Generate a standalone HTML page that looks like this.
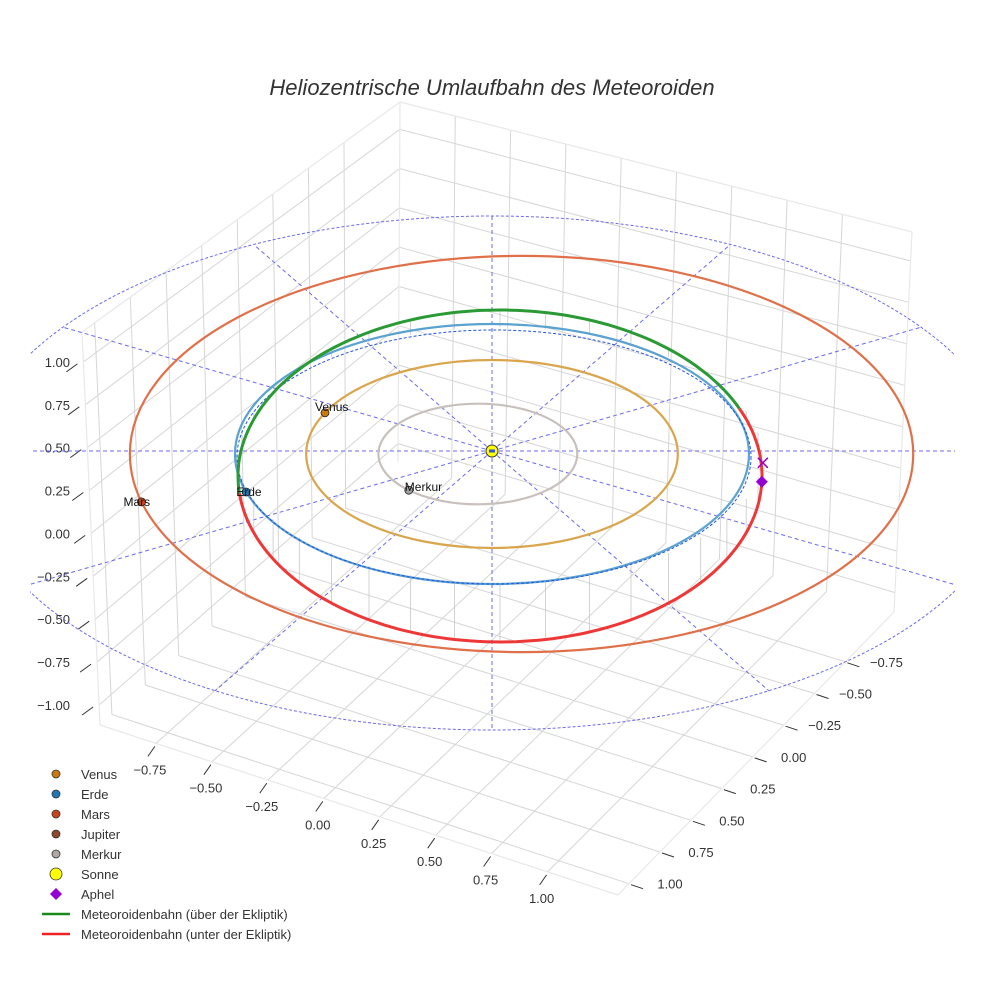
<!DOCTYPE html>
<html><head><meta charset="utf-8"><style>
html,body{margin:0;padding:0;background:#fff}
svg{display:block;font-family:"Liberation Sans",sans-serif}
</style></head><body>
<svg id="c" width="984" height="984" viewBox="0 0 984 984" xmlns="http://www.w3.org/2000/svg">
<defs><clipPath id="clipScene"><rect x="30" y="0" width="925" height="984"/></clipPath></defs>
<rect width="984" height="984" fill="#fff"/>
<text x="492" y="95" text-anchor="middle" font-size="22" font-style="italic" fill="#333">Heliozentrische Umlaufbahn des Meteoroiden</text>
<g id="grid"></g>
<g id="ticks"></g>
<g id="ref" clip-path="url(#clipScene)"></g>
<g id="orbits"></g>
<g id="legend"></g>
</svg>
<script>
// ---- data ----
const xTicks = [-0.75,-0.5,-0.25,0,0.25,0.5,0.75,1.0];
const yTicks = [-0.75,-0.5,-0.25,0,0.25,0.5,0.75,1.0];
const zTicks = [-1.0,-0.75,-0.5,-0.25,0,0.25,0.5,0.75,1.0];
const tickLabels = ["\u22121.00","\u22120.75","\u22120.50","\u22120.25","0.00","0.25","0.50","0.75","1.00"];
const planetNames = ["Merkur","Venus","Erde","Mars"];
const orbitRadii = [0.387,0.723,1.0,1.524];
const orbitCenterOffset = [-0.055,0,0,0.115];
const planetAngles = [134,-154,163,166];
const planetColors = ["#a0a0a0","#c87a10","#1f77b4","#c8461b"];
const orbitColors = ["#c8c0bd","#d9a64e","#5aa2d0","#e0704a"];
const legendNames = ["Venus","Erde","Mars","Jupiter","Merkur","Sonne","Aphel","Meteoroidenbahn (über der Ekliptik)","Meteoroidenbahn (unter der Ekliptik)"];
const legendColors = ["#c87a10","#1f77b4","#c8461b","#8c4a2a","#b0a8a4","#ffff00","#9400d3","#1a8a1a","#ee2222"];
const spokeAngles = [0,30,60,90,120,150,180,210,240,270,300,330];
const meteorNodeAngles = [174,-24];
const aphelAngle = 2;

const NS="http://www.w3.org/2000/svg";
function mk(tag,attrs,parent){const e=document.createElementNS(NS,tag);for(const k in attrs)e.setAttribute(k,attrs[k]);parent.appendChild(e);return e;}
const G=document.getElementById('grid'),T=document.getElementById('ticks'),R=document.getElementById('ref'),O=document.getElementById('orbits'),LG=document.getElementById('legend');

// ---- box geometry ----
const L=[100,725],F=[618,895],Rc=[894,612],B=[398,462],TL=[82,332],TB=[400,102],TR=[912,232];
const lerp=(a,b,t)=>[a[0]+(b[0]-a[0])*t,a[1]+(b[1]-a[1])*t];
const fx=t=>(t+1)*0.432;
const fy=t=>0.04+(1-t)*0.448;
const fz=t=>0.051+(t+1)*0.4365;
function line(p,q,st,w,par,name){const e=mk('line',{x1:p[0].toFixed(1),y1:p[1].toFixed(1),x2:q[0].toFixed(1),y2:q[1].toFixed(1),stroke:st,'stroke-width':w},par);return e;}
xTicks.forEach(t=>line(lerp(L,F,fx(t)),lerp(B,Rc,fx(t)),'#d6d6d6',1,G,'floor-gridline-x'));
yTicks.forEach(t=>line(lerp(L,B,fy(t)),lerp(F,Rc,fy(t)),'#d6d6d6',1,G,'floor-gridline-y'));
yTicks.forEach(t=>line(lerp(L,B,fy(t)),lerp(TL,TB,fy(t)),'#d6d6d6',1,G,'left-wall-gridline'));
zTicks.forEach(t=>line(lerp(L,TL,fz(t)),lerp(B,TB,fz(t)),'#d6d6d6',1,G,'left-wall-gridline-z'));
xTicks.forEach(t=>line(lerp(B,Rc,fx(t)),lerp(TB,TR,fx(t)),'#d6d6d6',1,G,'right-wall-gridline'));
zTicks.forEach(t=>line(lerp(B,TB,fz(t)),lerp(Rc,TR,fz(t)),'#d6d6d6',1,G,'right-wall-gridline-z'));
[[L,F],[F,Rc],[L,TL],[TL,TB],[TB,TR],[TR,Rc],[B,TB]].forEach(e=>line(e[0],e[1],'#e8e8e8',1.2,G,'box-edge'));

xTicks.forEach((t,i)=>{const p=lerp(L,F,fx(t));line([p[0]-1,p[1]+3],[p[0]-8,p[1]+13],'#333',1,T,'x-tick');
 const tx=mk('text',{x:(p[0]-6).toFixed(1),y:(p[1]+31).toFixed(1),'text-anchor':'middle','font-size':13,fill:'#333'},T);tx.textContent=tickLabels[i+1];
 });
yTicks.forEach((t,i)=>{const p=lerp(F,Rc,fy(t));line([p[0]+2,p[1]+1],[p[0]+14,p[1]+5],'#333',1,T,'y-tick');
 const tx=mk('text',{x:(p[0]+41).toFixed(1),y:(p[1]+5).toFixed(1),'text-anchor':'middle','font-size':13,fill:'#333'},T);tx.textContent=tickLabels[i+1];
 });
zTicks.forEach((t,i)=>{const p=lerp(L,TL,fz(t));line([p[0]-6,p[1]+2],[p[0]-17,p[1]+10],'#333',1,T,'z-tick');
 const tx=mk('text',{x:70,y:(p[1]+5).toFixed(1),'text-anchor':'end','font-size':13,fill:'#333'},T);tx.textContent=tickLabels[i];
 });

// ---- reference lines ----
const S=[492,451],BE={cx:492,cy:473,rx:521,ry:257};
const be=mk('ellipse',{cx:BE.cx,cy:BE.cy,rx:BE.rx,ry:BE.ry,fill:'none',stroke:'#6a6aee','stroke-width':1,'stroke-dasharray':'3,2'},R);

spokeAngles.forEach(a=>{const r=a*Math.PI/180,dx=Math.cos(r),dy=0.5*Math.sin(r);
 const ox=S[0]-BE.cx,oy=S[1]-BE.cy;
 const A=(dx/BE.rx)**2+(dy/BE.ry)**2,Bq=2*(ox*dx/BE.rx**2+oy*dy/BE.ry**2),C=(ox/BE.rx)**2+(oy/BE.ry)**2-1;
 const t=(-Bq+Math.sqrt(Bq*Bq-4*A*C))/(2*A);
 const e=line(S,[S[0]+dx*t,S[1]+dy*t],'#6a6aee',1,R,'reference-spoke');e.setAttribute('stroke-dasharray','4,3');});

// ---- orbits ----
const SX=257,SY=130,CX=492,CY=454;
function orbitPt(i,deg){const r=deg*Math.PI/180;return [CX+(orbitCenterOffset[i]+orbitRadii[i]*Math.cos(r))*SX,CY+orbitRadii[i]*Math.sin(r)*SY];}
const MET={cx:500,cy:476,rx:262,ry:166},PROJ={cx:494,cy:455,rx:256,ry:128};
const mp=d=>{const r=d*Math.PI/180;return [MET.cx+MET.rx*Math.cos(r),MET.cy+MET.ry*Math.sin(r)];};
const pp=d=>{const r=d*Math.PI/180;return [PROJ.cx+PROJ.rx*Math.cos(r),PROJ.cy+PROJ.ry*Math.sin(r)];};
for(let d=-170;d<=180;d+=10){const a=mp(d),b=pp(d);if(Math.abs(a[1]-b[1])<4)continue;line(a,[a[0],b[1]],'#c8c8c8',0.8,O,'dropline');}
orbitRadii.forEach((r,i)=>{const e=mk('ellipse',{cx:CX+orbitCenterOffset[i]*SX,cy:CY,rx:r*SX,ry:r*SY,fill:'none',stroke:orbitColors[i],'stroke-width':2.2},O);
 });
const pe=mk('ellipse',{cx:PROJ.cx,cy:PROJ.cy+2,rx:PROJ.rx+1,ry:PROJ.ry-1,fill:'none',stroke:'#2255dd','stroke-width':1,'stroke-dasharray':'3,2'},O);

function arc(d0,d1,col,name){let s='';const n=120;for(let k=0;k<=n;k++){const p=mp(d0+(d1-d0)*k/n);s+=(k?'L':'M')+p[0].toFixed(1)+' '+p[1].toFixed(1);}
 const e=mk('path',{d:s,fill:'none',stroke:col,'stroke-width':3},O);}
arc(meteorNodeAngles[0],360+meteorNodeAngles[1],'#2a9a35','meteoroid-orbit-above');
arc(meteorNodeAngles[1],meteorNodeAngles[0],'#ee3838','meteoroid-orbit-below');
planetNames.forEach((n,i)=>{const p=orbitPt(i,planetAngles[i]);
 const c=mk('circle',{cx:p[0].toFixed(1),cy:p[1].toFixed(1),r:4,fill:planetColors[i],stroke:'#222','stroke-width':0.8},O);
 
 const t=mk('text',{x:(p[0]-(i==0?4:(i==3?18:10))).toFixed(1),y:(p[1]+(i==1?-2:(i==0?1:4))).toFixed(1),'font-size':12,fill:'#111'},O);
 t.textContent=n;
 });
const sun=mk('circle',{cx:S[0],cy:S[1],r:6,fill:'#ffff00',stroke:'#333','stroke-width':1},O);

const sunc=mk('rect',{x:S[0]-3,y:S[1]-1.5,width:6,height:3,fill:'#3355cc'},O);

const ap=mp(aphelAngle);
const dia=mk('path',{d:`M${ap[0]} ${ap[1]-6}L${ap[0]+6} ${ap[1]}L${ap[0]} ${ap[1]+6}L${ap[0]-6} ${ap[1]}Z`,fill:'#9400d3'},O);

const xm=mk('path',{d:`M${ap[0]-4} ${ap[1]-24}L${ap[0]+6} ${ap[1]-14}M${ap[0]+6} ${ap[1]-24}L${ap[0]-4} ${ap[1]-14}`,stroke:'#9400d3','stroke-width':1.5,fill:'none'},O);


legendNames.forEach((n,i)=>{const y=774+i*20;const g=mk('g',{},LG);
 
 if(i<5)mk('circle',{cx:56,cy:y,r:4,fill:legendColors[i],stroke:'#333','stroke-width':0.8},g);
 else if(i==5)mk('circle',{cx:56,cy:y,r:6,fill:legendColors[i],stroke:'#333','stroke-width':0.8},g);
 else if(i==6)mk('path',{d:`M56 ${y-6}L62 ${y}L56 ${y+6}L50 ${y}Z`,fill:legendColors[i]},g);
 else mk('line',{x1:42,y1:y,x2:70,y2:y,stroke:legendColors[i],'stroke-width':2.5},g);
 const t=mk('text',{x:81,y:y+5,'font-size':13,fill:'#333'},g);t.textContent=n;});
</script>
</body></html>
